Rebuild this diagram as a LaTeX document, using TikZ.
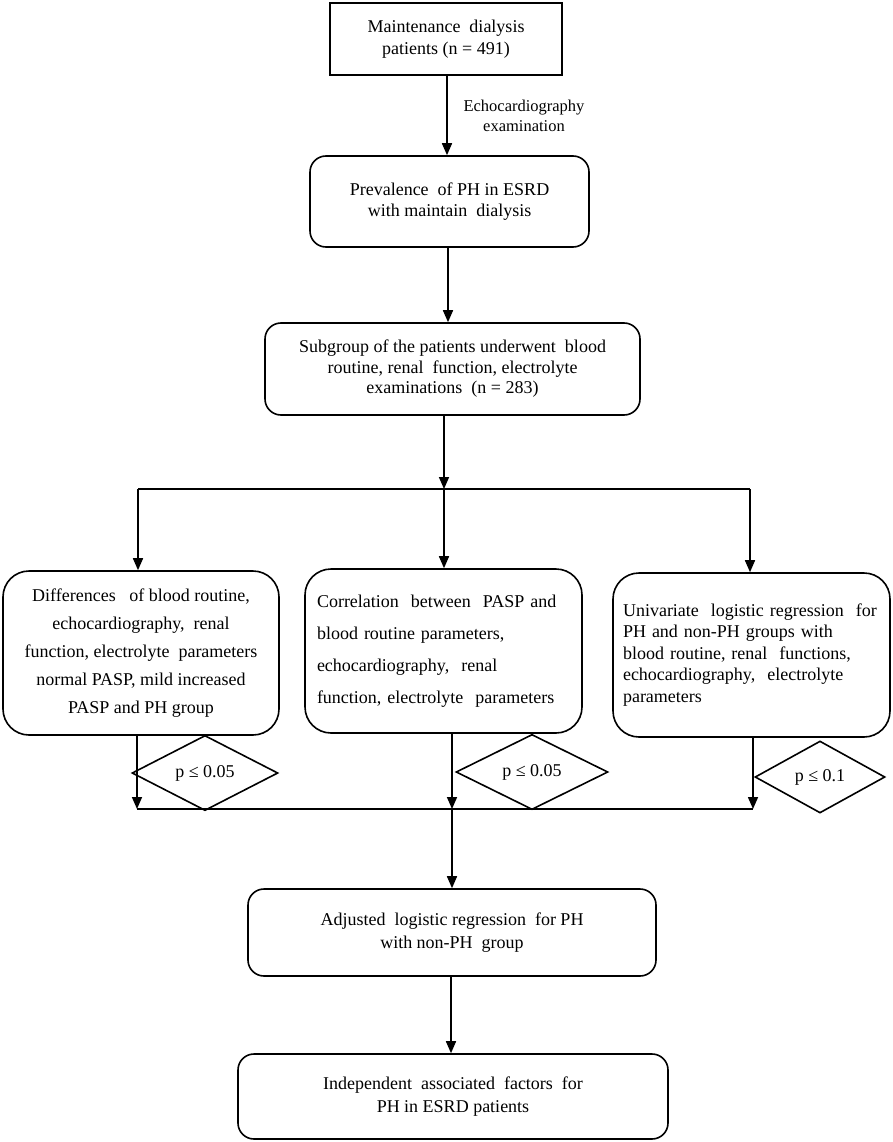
\documentclass[tikz,border=0pt]{standalone}
\usepackage{fontspec}
\setmainfont{Liberation Serif}
\usetikzlibrary{shapes.geometric,arrows.meta}
\begin{document}
\begin{tikzpicture}[x=1pt,y=-1pt,
  every node/.style={font=\fontsize{18}{21.5}\selectfont},
  sqbox/.style={draw,line width=1.6pt,inner sep=0pt,align=center},
  rbox/.style={draw,line width=1.6pt,rounded corners=16pt,inner sep=0pt,align=center},
  bigbox/.style={draw,line width=1.6pt,rounded corners=26pt,inner ysep=0pt},
  dia/.style={draw,diamond,line width=1.6pt,inner sep=0pt},
  arr/.style={line width=1.6pt,-{Triangle[length=12pt,width=10pt]}},
  ln/.style={line width=1.6pt}]
\useasboundingbox (0,0) rectangle (893,1142);

\node[sqbox,minimum width=232,minimum height=72] (b1) at (446,39)
  {Maintenance\ \ dialysis\\patients\ (n = 491)};
\node[font=\fontsize{16.5}{20}\selectfont,align=center] (lab) at (524,116)
  {Echocardiography\\examination};
\node[rbox,minimum width=279,minimum height=91] (b2) at (449.5,201.5)
  {Prevalence\ \ of PH in ESRD\\with maintain\ \ dialysis};
\node[rbox,minimum width=375,minimum height=92,font=\fontsize{18}{20.5}\selectfont] (b3) at (452.5,369)
  {Subgroup\ of the patients\ underwent\ \ blood\\routine,\ renal\ \ function,\ electrolyte\\examinations\ \ (n = 283)};

\node[bigbox,align=center,inner xsep=0pt,minimum width=276,minimum height=164,font=\fontsize{18}{28}\selectfont] (b4) at (141,653)
  {Differences\ \ \ of blood\ routine,\\echocardiography,\ \ renal\\function,\ electrolyte\ \ parameters\\normal\ PASP, mild increased\\PASP and\ PH group};
\node[bigbox,align=left,inner xsep=12pt,text width=253pt,minimum height=164,font=\fontsize{18}{32}\selectfont] (b5) at (443.5,651)
  {Correlation\ \ between\ \ PASP and\\blood\ routine parameters,\\echocardiography,\ \ renal\\function,\ electrolyte\ \ parameters};
\node[bigbox,align=left,inner xsep=10pt,text width=257pt,minimum height=164,font=\fontsize{18}{21.5}\selectfont] (b6) at (751.5,655)
  {Univariate\ \ logistic regression\ \ for\\PH and\ non-PH\ groups\ with\\blood\ routine,\ renal\ \ functions,\\echocardiography,\ \ electrolyte\\parameters};

\node[dia,minimum width=146,minimum height=72] (d1) at (205,773) {p ≤ 0.05};
\node[dia,minimum width=152,minimum height=74] (d2) at (532,772) {p ≤ 0.05};
\node[dia,minimum width=130,minimum height=72] (d3) at (820,777) {p ≤ 0.1};

\node[rbox,minimum width=408,minimum height=87,font=\fontsize{18}{23}\selectfont] (b7) at (452,932.5)
  {Adjusted\ \ logistic regression\ \ for PH\\with non-PH\ \ group};
\node[rbox,minimum width=430,minimum height=85,font=\fontsize{18}{23}\selectfont] (b8) at (453,1096.5)
  {Independent\ \ associated\ \ factors\ \ for\\PH in ESRD patients};

\coordinate (a1) at (447,0);
\coordinate (a2) at (448,0);
\coordinate (a7) at (451,0);
\coordinate (s0) at (444,489);
\coordinate (sl) at (138,489);
\coordinate (sr) at (750,489);
\coordinate (ml) at (137,809);
\coordinate (mm) at (452,809);
\coordinate (mr) at (753,809);

\draw[arr] (b1.south -| a1) -- (b2.north -| a1);
\draw[arr] (b2.south -| a2) -- (b3.north -| a2);
\draw[arr] (b3.south -| s0) -- (s0);
\draw[ln] (sl) -- (sr);
\draw[arr] (sl) -- (sl |- b4.north);
\draw[arr] (s0) -- (s0 |- b5.north);
\draw[arr] (sr) -- (sr |- b6.north);
\draw[arr] (b4.south -| ml) -- (ml);
\draw[arr] (b5.south -| mm) -- (mm);
\draw[arr] (b6.south -| mr) -- (mr);
\draw[ln] (ml) -- (mr);
\draw[arr] (mm) -- (mm |- b7.north);
\draw[arr] (b7.south -| a7) -- (b8.north -| a7);
\end{tikzpicture}
\end{document}
